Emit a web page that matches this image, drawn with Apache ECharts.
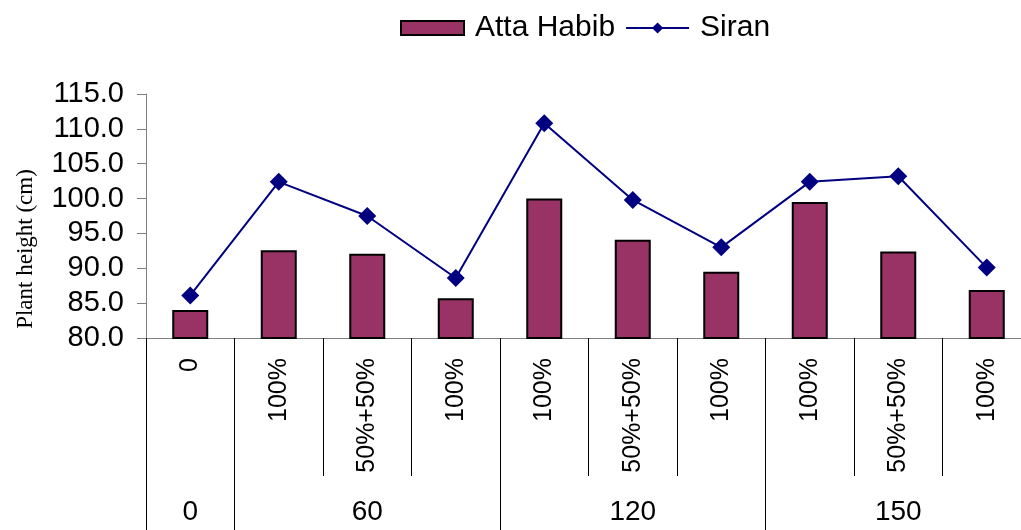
<!DOCTYPE html>
<html>
<head>
<meta charset="utf-8">
<script src="https://cdn.jsdelivr.net/npm/echarts@6/dist/echarts.min.js"></script>
<style>
  html, body { margin: 0; padding: 0; background: #fff; overflow: hidden; }
  /* plot area runs a little past the right edge in the original */
  #chart { width: 1031px; height: 530px; }
</style>
</head>
<body>
<div id="chart"></div>
<script>
// treatment labels (first level) and dose groups (second level)
const treatments = ['0', '100%', '50%+50%', '100%', '100%', '50%+50%', '100%', '100%', '50%+50%', '100%'];
const groupNames = ['0', '60', '120', '150'];
const groupSizes = [1, 3, 3, 3];

const attaHabib = [84.0, 92.6, 92.1, 85.7, 100.0, 94.1, 89.5, 99.5, 92.4, 86.9];
const siran = [86.1, 102.4, 97.5, 88.6, 110.8, 99.8, 93.0, 102.4, 103.2, 90.1];

// group label sits on middle category of its group, ticks on group starts
let groupLabels = [];
let groupStarts = [];
groupNames.forEach((g, i) => {
  groupStarts.push(groupLabels.length);
  for (let k = 0; k < groupSizes[i]; k++) {
    groupLabels.push(k === Math.floor(groupSizes[i] / 2) ? g : '');
  }
});

const sans = 'Liberation Sans, Arial, sans-serif';
const chart = echarts.init(document.getElementById('chart'));

const option = {
  animation: false,
  backgroundColor: '#fff',
  grid: { left: 146, right: 0, top: 94, bottom: 192, containLabel: false },
  legend: {
    left: 395,
    top: 8,
    itemWidth: 63,
    itemHeight: 14,
    itemGap: 10,
    lineStyle: { width: 2 },
    textStyle: { fontFamily: sans, fontSize: 30, color: '#000', padding: [0, 0, 0, 6] },
    data: [{ name: 'Atta Habib', icon: 'rect' }, { name: 'Siran' }]
  },
  xAxis: [
    {
      type: 'category',
      data: treatments,
      axisLine: { show: true, lineStyle: { color: '#808080', width: 1 } },
      axisTick: { show: true, alignWithLabel: false, length: 138, lineStyle: { color: '#000', width: 1 } },
      axisLabel: {
        interval: 0,
        rotate: 90,
        margin: 20,
        fontFamily: sans,
        fontSize: 25,
        color: '#000'
      }
    },
    {
      type: 'category',
      position: 'bottom',
      data: groupLabels,
      axisLine: { show: false },
      axisTick: {
        show: true,
        alignWithLabel: false,
        length: 192,
        interval: function (idx) { return groupStarts.indexOf(idx) >= 0; },
        lineStyle: { color: '#000', width: 1 }
      },
      axisLabel: {
        interval: 0,
        margin: 160,
        fontFamily: sans,
        fontSize: 28,
        color: '#000'
      }
    }
  ],
  yAxis: {
    type: 'value',
    min: 80,
    max: 115,
    interval: 5,
    name: 'Plant height (cm)',
    nameLocation: 'middle',
    nameGap: 109,
    nameTextStyle: {
      fontFamily: 'Liberation Serif, Times New Roman, serif',
      fontSize: 23,
      color: '#000',
      padding: [0, 66, 0, 0]
    },
    splitLine: { show: false },
    axisLine: { show: true, lineStyle: { color: '#808080' } },
    axisTick: { show: true, length: 9, lineStyle: { color: '#808080' } },
    axisLabel: {
      margin: 22,
      fontFamily: sans,
      fontSize: 29,
      color: '#000',
      formatter: v => v.toFixed(1)
    }
  },
  series: [
    {
      name: 'Atta Habib',
      type: 'bar',
      barWidth: 36,
      data: attaHabib,
      itemStyle: { color: '#993366', borderColor: '#000', borderWidth: 2 }
    },
    {
      name: 'Siran',
      type: 'line',
      data: siran,
      symbol: 'diamond',
      symbolSize: 18,
      lineStyle: { color: '#000080', width: 2 },
      itemStyle: { color: '#000080' }
    }
  ]
};

chart.setOption(option);
</script>
</body>
</html>
